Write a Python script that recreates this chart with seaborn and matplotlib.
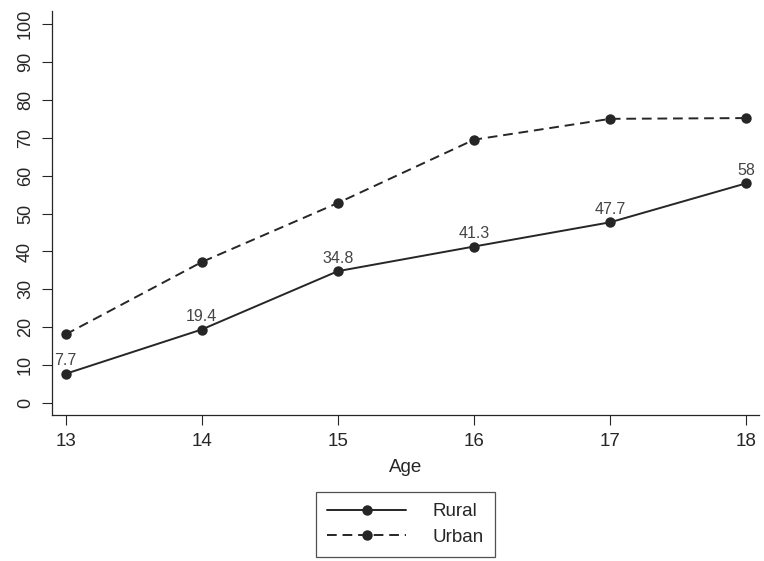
import pandas as pd
import matplotlib
matplotlib.use("Agg")
import matplotlib.pyplot as plt
import seaborn as sns

ages = [13, 14, 15, 16, 17, 18]
rural = [7.7, 19.4, 34.8, 41.3, 47.7, 58]
urban = [18.1, 37.2, 52.8, 69.5, 75.0, 75.2]
yticks = [0, 10, 20, 30, 40, 50, 60, 70, 80, 90, 100]

df = pd.DataFrame({
    "Age": ages * 2,
    "value": rural + urban,
    "group": ["Rural"] * len(ages) + ["Urban"] * len(ages),
})

sns.set_style("ticks")
plt.rcParams['font.family'] = ['Liberation Sans', 'DejaVu Sans']

fig = plt.figure(figsize=(7.64, 5.61), dpi=100)
ax = fig.add_axes([0.068, 0.26, 0.925, 0.72])

dark = "#262626"
sns.lineplot(data=df, x="Age", y="value", style="group",
             dashes={"Rural": "", "Urban": (5, 3)},
             markers={"Rural": "o", "Urban": "o"},
             color=dark, markersize=7.5, markeredgewidth=0,
             linewidth=1.4, ax=ax)

# value labels on rural line
for a, v in zip(ages, rural):
    ax.annotate("{:g}".format(v), (a, v), xytext=(0, 4), textcoords="offset points",
                ha="center", va="bottom", fontsize=11.5, color="#444444")

ax.set_xlim(12.9, 18.09)
ax.set_ylim(-3.2, 103.4)
ax.set_xticks(ages)
ax.set_yticks(yticks)
ax.tick_params(axis="y", labelrotation=90, labelsize=13, length=7, width=0.8,
               colors=dark, pad=6)
ax.tick_params(axis="x", labelsize=13.5, length=7, width=0.8, colors=dark, pad=6)
for lab in ax.get_yticklabels():
    lab.set_va("center")
ax.set_xlabel("Age", fontsize=13.5, color=dark, labelpad=6)
ax.set_ylabel("")
sns.despine(ax=ax)
for s in ["left", "bottom"]:
    ax.spines[s].set_color(dark)
    ax.spines[s].set_linewidth(0.9)

handles, labels = ax.get_legend_handles_labels()
leg = ax.legend(handles=handles, labels=labels, loc="upper center",
                bbox_to_anchor=(0.5, -0.19), ncol=1, frameon=True,
                fancybox=False, edgecolor=dark, fontsize=13.5,
                handlelength=4.2, handletextpad=1.4, borderpad=0.6,
                labelspacing=0.45, borderaxespad=0)
leg.get_frame().set_linewidth(0.9)

fig.savefig("out.png", dpi=100)
